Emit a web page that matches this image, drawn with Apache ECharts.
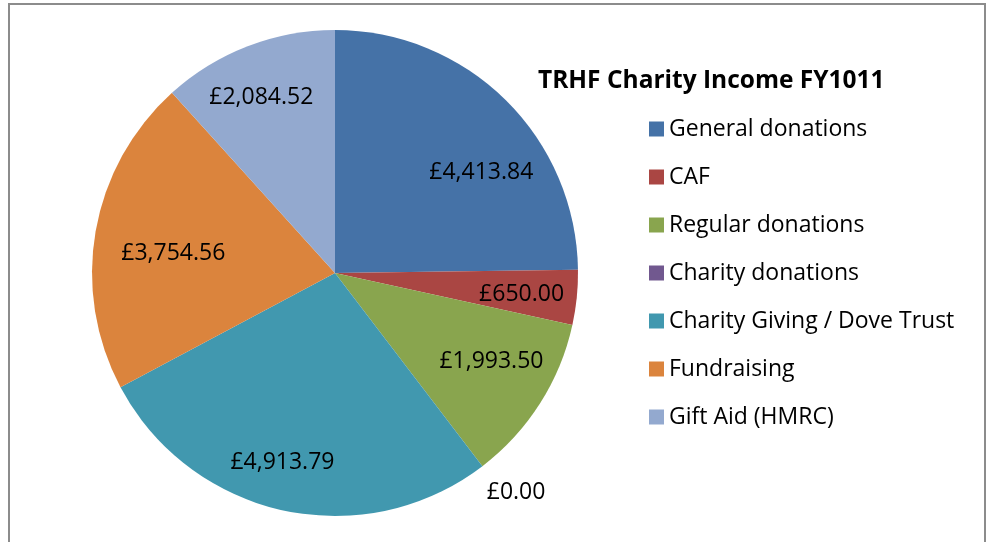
<!DOCTYPE html>
<html>
<head>
<meta charset="utf-8">
<script src="https://cdn.jsdelivr.net/npm/echarts@6/dist/echarts.min.js"></script>
<style>
  html, body { margin: 0; padding: 0; background: #fff; }
  #chart { width: 989px; height: 542px; }
</style>
</head>
<body>
<div id="chart"></div>
<script>
var categories = ['General donations', 'CAF', 'Regular donations', 'Charity donations',
                  'Charity Giving / Dove Trust', 'Fundraising', 'Gift Aid (HMRC)'];
var income = [4413.84, 650.00, 1993.50, 0.00, 4913.79, 3754.56, 2084.52];
var colors = ['#4572A7', '#AA4643', '#89A54E', '#71588F', '#4198AF', '#DB843D', '#93A9CF'];

// small label shifts to mimic Excel's "best fit" placement
var labelNudge = [[16, 32], [2, 3], [0, -11], [-14, 9], [-13, 8], [21, 12], [-7, -2]];

var font = '"Open Sans", "Noto Sans", sans-serif';

function money(v) {
    return '£' + v.toLocaleString('en-GB', {minimumFractionDigits: 2, maximumFractionDigits: 2});
}

var chart = echarts.init(document.getElementById('chart'));

var pieData = categories.map(function (name, i) {
    return {name: name, value: income[i]};
});

// labels sit on a transparent ring so they land at ~3/4 of the radius
var labelData = categories.map(function (name, i) {
    var item = {name: name, value: income[i], label: {offset: labelNudge[i]}};
    if (income[i] === 0) {
        item.label.position = 'outside';
    }
    return item;
});

var option = {
    color: colors,
    animation: false,
    title: {
        text: 'TRHF Charity Income FY1011',
        left: 533,
        top: 64,
        textStyle: {fontFamily: font, fontSize: 24.5, fontWeight: 'bold', color: '#000'}
    },
    legend: {
        orient: 'vertical',
        left: 644,
        top: 112,
        icon: 'rect',
        itemWidth: 15,
        itemHeight: 15,
        itemGap: 24,
        data: categories,
        textStyle: {fontFamily: font, fontSize: 23, lineHeight: 24, color: '#000'}
    },
    graphic: [{
        type: 'rect',
        shape: {x: 9, y: 4, width: 976, height: 560},
        style: {fill: 'none', stroke: '#8c8c8c', lineWidth: 2},
        silent: true
    }],
    series: [
        {
            type: 'pie',
            center: [335, 273],
            radius: [0, 243],
            startAngle: 90,
            clockwise: true,
            avoidLabelOverlap: false,
            label: {show: false},
            labelLine: {show: false},
            itemStyle: {borderWidth: 0},
            emphasis: {disabled: true},
            data: pieData
        },
        {
            type: 'pie',
            center: [335, 273],
            radius: [122, 243],
            startAngle: 90,
            clockwise: true,
            silent: true,
            avoidLabelOverlap: false,
            itemStyle: {color: 'rgba(0,0,0,0)', borderWidth: 0},
            label: {
                show: true,
                position: 'inside',
                fontFamily: font,
                fontSize: 23,
                color: '#000',
                formatter: function (p) { return money(p.value); }
            },
            labelLine: {show: false, length: 22, length2: 0},
            emphasis: {disabled: true},
            data: labelData
        }
    ]
};

chart.setOption(option);
</script>
</body>
</html>
